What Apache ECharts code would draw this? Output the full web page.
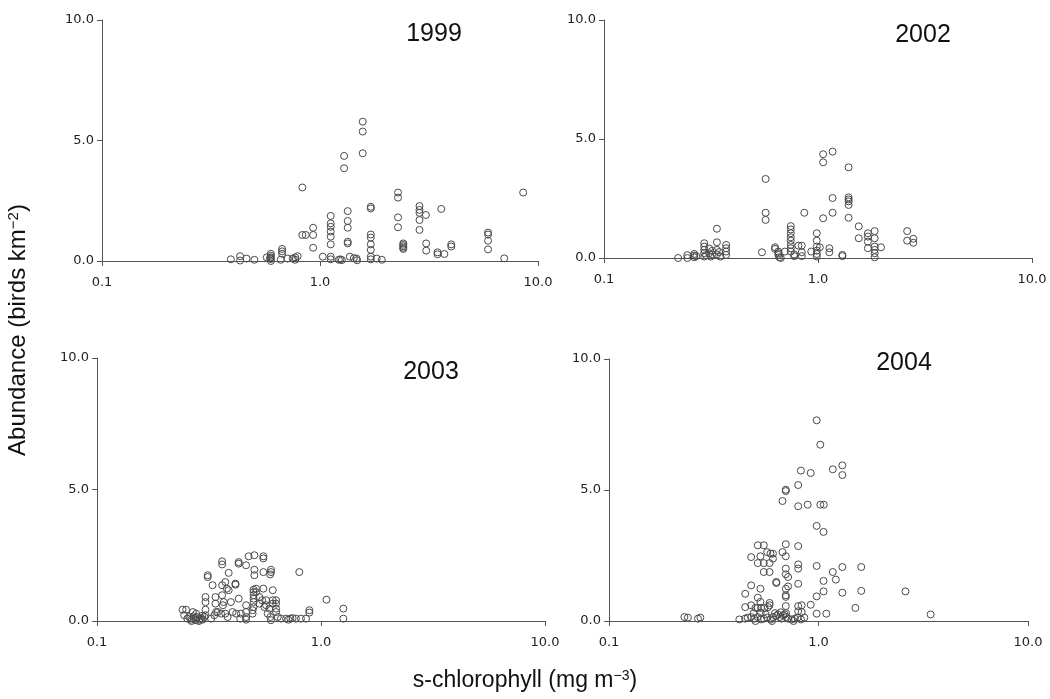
<!DOCTYPE html>
<html><head><meta charset="utf-8">
<script src="https://cdn.jsdelivr.net/npm/echarts@6/dist/echarts.min.js"></script>
<style>html,body{margin:0;padding:0;background:#fff}#c{width:1050px;height:699px}</style>
</head><body><div id="c"></div>
<script>
// ---- data ----
const years = ['1999', '2002', '2003', '2004'];
const xTickValues = [0.1, 1, 10];
const yTickValues = [0, 5, 10];
const xAxisTitle = 's-chlorophyll (mg m{sup|\u22123})';
const yAxisTitle = 'Abundance (birds km{sup|\u22122})';

// [s-chlorophyll (mg m-3), abundance (birds km-2)]
const pts1999 = [
 [0.39,0.07],[0.43,0.2],[0.43,0.02],[0.46,0.1],[0.50,0.05],[0.57,0.15],
 [0.595,0.0],[0.595,0.08],[0.595,0.15],[0.595,0.22],[0.595,0.3],[0.59,0.12],
 [0.66,0.05],[0.67,0.5],[0.67,0.4],[0.67,0.3],[0.71,0.1],[0.75,0.1],[0.77,0.15],[0.79,0.2],[0.77,0.05],
 [0.83,3.05],[0.83,1.08],[0.86,1.08],[0.93,1.38],[0.93,1.08],[0.93,0.55],[1.03,0.18],
 [1.12,1.87],[1.12,1.56],[1.12,1.42],[1.12,1.22],[1.12,1.01],[1.12,0.69],[1.12,0.18],[1.12,0.07],
 [1.24,0.07],[1.22,0.05],[1.26,0.04],[1.29,4.36],[1.29,3.85],
 [1.34,2.07],[1.34,1.66],[1.34,1.38],[1.34,0.8],[1.34,0.73],[1.37,0.18],
 [1.43,0.12],[1.47,0.1],[1.48,0.03],[1.57,5.78],[1.57,5.37],[1.57,4.47],
 [1.71,2.25],[1.71,2.18],[1.71,1.1],[1.71,0.97],[1.71,0.69],[1.71,0.46],[1.71,0.18],[1.71,0.07],
 [1.82,0.1],[1.92,0.05],[2.28,2.84],[2.28,2.63],[2.28,1.81],[2.28,1.40],
 [2.41,0.73],[2.41,0.67],[2.41,0.61],[2.41,0.55],[2.41,0.5],
 [2.86,2.28],[2.86,2.12],[2.86,2.0],[2.86,1.7],[2.86,1.29],[3.06,1.91],[3.07,0.73],[3.07,0.43],
 [3.46,0.36],[3.46,0.28],[3.60,2.16],[3.72,0.29],[4.0,0.69],[4.0,0.6],
 [5.9,1.18],[5.9,1.1],[5.9,0.84],[5.9,0.48],[7.0,0.11],[8.55,2.84]
];
const pts2002 = [
 [0.222,0.0],[0.245,0.12],[0.245,0.0],[0.264,0.17],[0.264,0.1],[0.264,0.03],[0.27,0.08],
 [0.294,0.62],[0.294,0.48],[0.294,0.34],[0.294,0.2],[0.294,0.06],[0.30,0.12],
 [0.31,0.4],[0.31,0.2],[0.315,0.06],[0.32,0.3],[0.32,0.15],
 [0.337,1.23],[0.337,0.66],[0.337,0.34],[0.337,0.15],[0.35,0.06],[0.345,0.25],
 [0.372,0.55],[0.372,0.41],[0.372,0.27],[0.372,0.13],
 [0.547,0.24],[0.569,3.32],[0.569,1.9],[0.569,1.6],
 [0.63,0.45],[0.63,0.38],[0.653,0.27],[0.653,0.13],[0.653,0.2],[0.66,0.03],[0.67,0.0],
 [0.746,1.34],[0.746,1.2],[0.746,1.04],[0.746,0.87],[0.746,0.73],[0.746,0.55],[0.746,0.41],[0.746,0.27],
 [0.70,0.27],[0.774,0.08],[0.774,0.15],[0.81,0.52],[0.84,0.52],[0.863,1.9],[0.84,0.24],[0.84,0.08],[0.93,0.27],
 [0.987,1.04],[0.987,0.73],[0.987,0.48],[0.987,0.31],[0.987,0.17],[0.987,0.06],[1.02,0.45],
 [1.057,1.67],[1.057,4.36],[1.057,4.02],[1.13,0.41],[1.13,0.24],[1.17,4.47],[1.17,2.52],[1.17,1.9],
 [1.30,0.13],[1.30,0.08],[1.39,3.81],[1.39,2.55],[1.39,2.46],[1.39,2.38],[1.39,2.23],[1.39,1.69],
 [1.55,1.33],[1.55,0.83],[1.71,1.04],[1.71,0.9],[1.71,0.69],[1.71,0.41],
 [1.84,1.13],[1.84,0.83],[1.84,0.48],[1.84,0.34],[1.84,0.2],[1.84,0.03],[1.97,0.45],
 [2.61,1.13],[2.61,0.73],[2.79,0.81],[2.79,0.64]
];
const pts2003 = [
 [0.475,2.46],[0.504,2.50],[0.553,2.46],[0.553,2.38],[0.429,2.24],[0.429,2.18],[0.362,2.27],[0.362,2.15],[0.463,2.12],
 [0.387,1.83],[0.504,1.95],[0.504,1.74],[0.553,1.86],[0.598,1.95],[0.598,1.86],[0.593,1.77],[0.312,1.74],[0.312,1.67],[0.800,1.86],
 [0.362,1.36],[0.328,1.36],[0.374,1.48],[0.380,1.23],[0.387,1.17],[0.415,1.42],[0.415,1.38],
 [0.500,1.19],[0.500,1.10],[0.500,0.98],[0.500,0.85],[0.500,0.72],[0.500,0.53],[0.513,1.23],[0.513,1.10],[0.553,1.23],
 [0.609,1.17],[0.609,0.79],[0.609,0.66],[0.630,0.79],[0.630,0.66],[0.630,0.47],[0.630,0.34],
 [0.429,0.85],[0.305,0.91],[0.305,0.72],[0.338,0.91],[0.338,0.66],[0.362,0.98],[0.368,0.72],[0.365,0.6],[0.396,0.72],
 [0.531,0.91],[0.531,0.66],[0.546,0.79],[0.569,0.79],[0.569,0.6],[0.588,0.47],[0.495,0.41],[0.495,0.28],
 [0.463,0.6],[0.463,0.34],[0.463,0.15],[0.463,0.05],
 [0.241,0.43],[0.250,0.43],[0.245,0.22],[0.268,0.34],[0.277,0.28],[0.305,0.43],[0.305,0.22],
 [0.258,0.15],[0.263,0.05],[0.270,0.09],[0.277,0.03],[0.281,0.15],[0.287,0.05],[0.292,0.11],[0.296,0.05],[0.302,0.15],
 [0.270,0.18],[0.253,0.09],[0.275,0.12],[0.285,0.0],[0.295,0.2],[0.264,0.0],
 [0.323,0.09],[0.334,0.22],[0.340,0.34],[0.346,0.34],[0.358,0.28],[0.374,0.28],[0.383,0.15],
 [0.403,0.34],[0.418,0.28],[0.439,0.28],[0.436,0.09],[0.559,0.53],[0.578,0.28],[0.594,0.15],[0.598,0.03],
 [0.641,0.15],[0.663,0.09],[0.698,0.09],[0.730,0.09],[0.715,0.05],[0.747,0.11],[0.773,0.09],[0.814,0.09],
 [0.887,0.41],[0.887,0.32],[0.857,0.09],[1.058,0.81],[1.258,0.47],[1.258,0.09]
];
const pts2004 = [
 [0.229,0.15],[0.238,0.13],[0.266,0.09],[0.273,0.13],
 [0.98,7.66],[1.02,6.73],[0.824,5.74],[0.918,5.65],[1.17,5.79],[1.30,5.94],[1.30,5.57],[0.80,5.19],
 [0.698,5.01],[0.698,4.96],[0.673,4.58],[0.80,4.38],[0.888,4.44],[1.02,4.44],[1.06,4.44],[0.98,3.63],[1.057,3.40],
 [0.513,2.89],[0.548,2.89],[0.698,2.93],[0.80,2.86],[0.569,2.63],[0.59,2.57],[0.606,2.57],[0.673,2.63],
 [0.477,2.44],[0.528,2.47],[0.698,2.47],[0.606,2.38],[0.513,2.21],[0.548,2.21],[0.584,2.21],[0.80,2.16],[0.80,2.0],
 [0.98,2.10],[1.30,2.06],[1.60,2.06],[0.698,2.0],[0.548,1.87],[0.584,1.87],[1.17,1.87],[0.698,1.78],[0.716,1.68],
 [1.21,1.58],[1.057,1.53],[0.629,1.49],[0.629,1.45],[0.80,1.42],[0.477,1.36],[0.528,1.23],[0.716,1.32],[0.698,1.23],
 [1.057,1.13],[1.30,1.08],[1.60,1.15],[2.60,1.13],[0.447,1.04],[0.698,0.98],[0.698,0.92],[0.98,0.94],[0.513,0.89],
 [0.528,0.73],[0.584,0.69],[0.584,0.6],[0.918,0.62],[0.447,0.53],[0.477,0.6],[0.5,0.5],[0.513,0.5],[0.532,0.5],
 [0.552,0.5],[0.574,0.53],[0.698,0.57],[0.80,0.57],[0.831,0.6],[1.50,0.5],[0.80,0.37],[0.831,0.34],[0.98,0.28],
 [1.09,0.28],[3.43,0.25],
 [0.419,0.06],[0.446,0.09],[0.459,0.13],[0.477,0.15],[0.494,0.09],[0.513,0.15],[0.532,0.06],[0.549,0.09],
 [0.569,0.13],[0.591,0.06],[0.606,0.15],[0.629,0.19],[0.641,0.25],[0.653,0.15],[0.665,0.09],[0.678,0.22],
 [0.690,0.25],[0.703,0.15],[0.716,0.09],[0.743,0.06],[0.771,0.09],[0.795,0.13],[0.856,0.13],[0.825,0.06],
 [0.49,0.3],[0.53,0.32],[0.56,0.25],[0.62,0.3],[0.66,0.33],[0.70,0.3],[0.76,0.0],[0.60,0.0],[0.5,0.0]
];
const panelData = [pts1999, pts2002, pts2003, pts2004];

// ---- layout / style ----
const gridBoxes = [
  {left: 102, top: 20, width: 436, height: 241},
  {left: 604, top: 20, width: 428, height: 238},
  {left: 97,  top: 358, width: 448, height: 263},
  {left: 609, top: 359, width: 419, height: 262}
];
const titlePos = [[434, 34], [923, 35], [431, 372], [904, 363]];
const axisColor = '#555';
const labelColor = '#222';
const tickFont = 'DejaVu Sans';
const nameFont = 'Liberation Sans';

const chart = echarts.init(document.getElementById('c'), null, {renderer: 'canvas'});
const fmt = v => Number(v).toFixed(1);

const option = {
  animation: false,
  backgroundColor: '#fff',
  grid: gridBoxes.map(g => Object.assign({containLabel: false}, g)),
  xAxis: gridBoxes.map((g, i) => ({
    gridIndex: i, type: 'log', logBase: 10,
    min: xTickValues[0], max: xTickValues[xTickValues.length - 1],
    axisLine: {onZero: false, lineStyle: {color: axisColor, width: 1}},
    axisTick: {show: true, length: 5, lineStyle: {color: axisColor}},
    minorTick: {show: false},
    splitLine: {show: false},
    axisLabel: {formatter: fmt, color: labelColor, fontFamily: tickFont, fontSize: 13, margin: 15}
  })),
  yAxis: gridBoxes.map((g, i) => ({
    gridIndex: i, type: 'value',
    min: yTickValues[0], max: yTickValues[yTickValues.length - 1], interval: yTickValues[1] - yTickValues[0],
    axisLine: {show: true, onZero: false, lineStyle: {color: axisColor, width: 1}},
    axisTick: {show: true, length: 5, lineStyle: {color: axisColor}},
    splitLine: {show: false},
    axisLabel: {formatter: fmt, color: labelColor, fontFamily: tickFont, fontSize: 13, margin: 8}
  })),
  series: panelData.map((d, i) => ({
    type: 'scatter', xAxisIndex: i, yAxisIndex: i,
    data: d, symbol: 'circle', symbolSize: 7, silent: true,
    itemStyle: {color: 'rgba(255,255,255,0)', borderColor: '#4a4a4a', borderWidth: 1, opacity: 1}
  })),
  graphic: years.map((y, i) => ({
    type: 'text', x: titlePos[i][0], y: titlePos[i][1],
    style: {text: y, font: '25px "' + nameFont + '"', fill: '#111', align: 'center', verticalAlign: 'middle'}
  })).concat([
    {type: 'text', x: 18, y: 330, rotation: Math.PI / 2,
     style: {text: yAxisTitle, fontFamily: nameFont, fontSize: 24, fill: '#111', align: 'center', verticalAlign: 'middle',
             rich: {sup: {fontFamily: nameFont, fontSize: 15, verticalAlign: 'top', fill: '#111'}}}},
    {type: 'text', x: 525, y: 681,
     style: {text: xAxisTitle, fontFamily: nameFont, fontSize: 23, fill: '#111', align: 'center', verticalAlign: 'middle',
             rich: {sup: {fontFamily: nameFont, fontSize: 14, verticalAlign: 'top', fill: '#111'}}}}
  ])
};
chart.setOption(option);
</script>
</body></html>
